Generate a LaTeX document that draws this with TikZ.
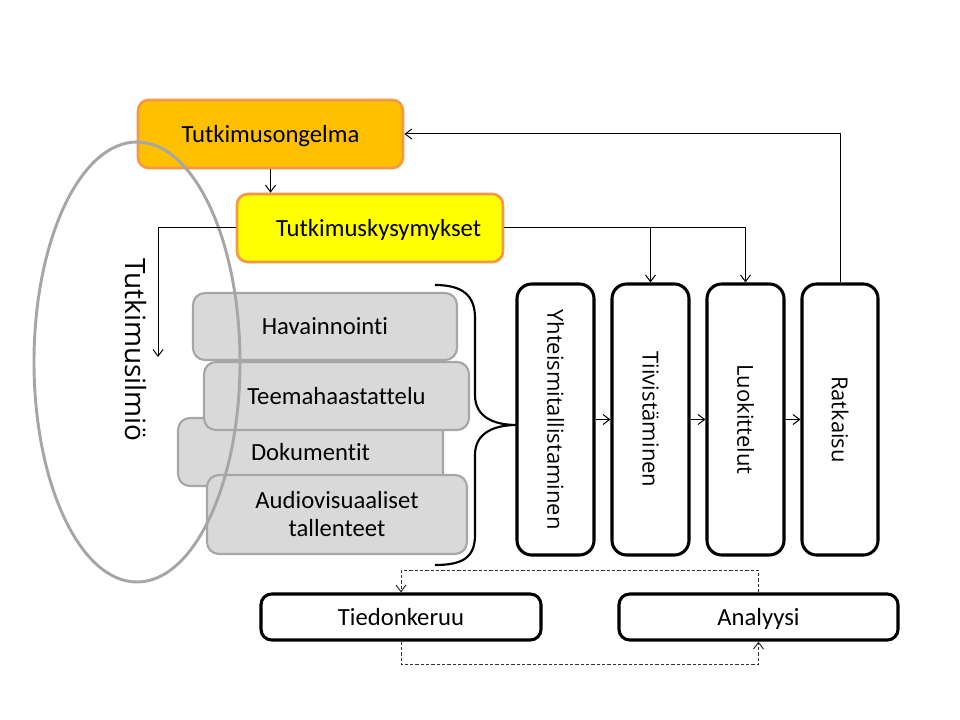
\documentclass[tikz,border=0pt]{standalone}
\usepackage{fontspec}
\usepackage{graphicx}
\setmainfont[Ligatures=NoCommon]{Carlito}
\newfontfamily\osans{Open Sans}
\usetikzlibrary{arrows.meta,calc}
\definecolor{orfill}{HTML}{FFC000}
\definecolor{orline}{HTML}{F79646}
\definecolor{yefill}{HTML}{FFFF00}
\definecolor{grfill}{HTML}{D9D9D9}
\definecolor{grline}{HTML}{A6A6A6}
\begin{document}
\begin{tikzpicture}[x=0.75pt,y=-0.75pt,
  sz/.style 2 args={minimum width=#1*0.75pt, minimum height=#2*0.75pt, inner sep=0pt},
  txt/.style={font=\fontsize{18.5}{21}\selectfont, text=black},
  oneline/.style={text height=14.5pt, text depth=2pt},
  obox/.style={txt, oneline, draw=orline, line width=2pt, fill=orfill, rounded corners=8pt},
  ybox/.style={txt, oneline, draw=orline, line width=2pt, fill=yefill, rounded corners=8pt},
  gbox/.style={txt, draw=grline, line width=1.6pt, fill=grfill, rounded corners=9pt},
  vbox/.style={draw=black, line width=2.3pt, fill=white, rounded corners=11pt,
               font=\osans\fontsize{16.5}{20}\selectfont},
  bbox/.style={txt, oneline, draw=black, line width=2.3pt, fill=white, rounded corners=8pt},
  conn/.style={line width=0.75pt, -{Straight Barb[length=5pt,width=7.5pt]}},
  dconn/.style={conn, draw=black!80, dash pattern=on 2.5pt off 1.5pt},
  bracestyle/.style={line width=1.6pt, draw=black},
  ellip/.style={draw=grline, line width=2.2pt}]
\useasboundingbox (0,0) rectangle (960,720);

% top boxes
\node[obox, sz={265}{68}] (ongelma) at (270.5,134) {Tutkimusongelma\hspace{10pt}};
\node[ybox, sz={266}{68}] (kys) at (370,228) {\hspace{13pt}Tutkimuskysymykset};

% data collection methods
\node[gbox, oneline, sz={264}{67}] (hav) at (325,326.5) {Havainnointi\hspace{8pt}};
\node[gbox, oneline, sz={265}{68}] (dok) at (310.5,452) {Dokumentit};
\node[gbox, oneline, sz={265}{68}] (teema) at (336.5,396) {Teemahaastattelu\hspace{4pt}};
\node[gbox, sz={260}{79}, align=center] (audio) at (337,514.5) {Audiovisuaaliset\\tallenteet};

% analysis steps
\node[vbox, sz={77}{271}] (yht) at (555.5,419.5) {\rotatebox{-90}{Yhteismitallistaminen}};
\node[vbox, sz={77}{271}] (tiiv) at (650.5,419.5) {\rotatebox{-90}{Tiivistäminen}};
\node[vbox, sz={77}{271}] (luok) at (745.5,419.5) {\rotatebox{-90}{Luokittelut}};
\node[vbox, sz={76}{271}] (ratk) at (840,419.5) {\rotatebox{-90}{Ratkaisu}};

% bottom boxes
\node[bbox, sz={280}{46}] (tied) at (401,617) {Tiedonkeruu};
\node[bbox, sz={279}{46}] (anal) at (758.5,617) {Analyysi};

% phenomenon ellipse
\draw[ellip] (137,362) ellipse [x radius=103, y radius=220];
\node[rotate=-90, font=\osans\fontsize{21}{25}\selectfont, inner sep=0pt] (ilmio) at (136,350) {Tutkimusilmiö};

% connectors
\coordinate (ilm) at (158,357);
\draw[conn] (ongelma.south) -- (ongelma.south |- kys.north);
\draw[conn] (kys.west) -| (ilm);
\draw[conn] (kys.east) -| (luok.north);
\draw[conn] (kys.east -| tiiv.north) -- (tiiv.north);
\draw[conn] (ratk.north) |- (ongelma.east);
\draw[conn] (yht.east) -- (tiiv.west);
\draw[conn] (tiiv.east) -- (luok.west);
\draw[conn] (luok.east) -- (ratk.west);

% brace
\coordinate (bt) at (435,285);
\coordinate (bb) at (435,565);
\coordinate (btip) at (517,425);
\draw[bracestyle] (bt) .. controls (462,285) and (475,295) .. (475,318)
  -- (475,395) .. controls (475,416) and (492,425) .. (btip)
  .. controls (492,425) and (475,434) .. (475,455)
  -- (475,535) .. controls (475,558) and (462,565) .. (bb);

% dashed cycle
\draw[dconn] (anal.north) -- ++(0,-22) -| (tied.north);
\draw[dconn] (tied.south) -- ++(0,23) -| (anal.south);
\end{tikzpicture}
\end{document}
